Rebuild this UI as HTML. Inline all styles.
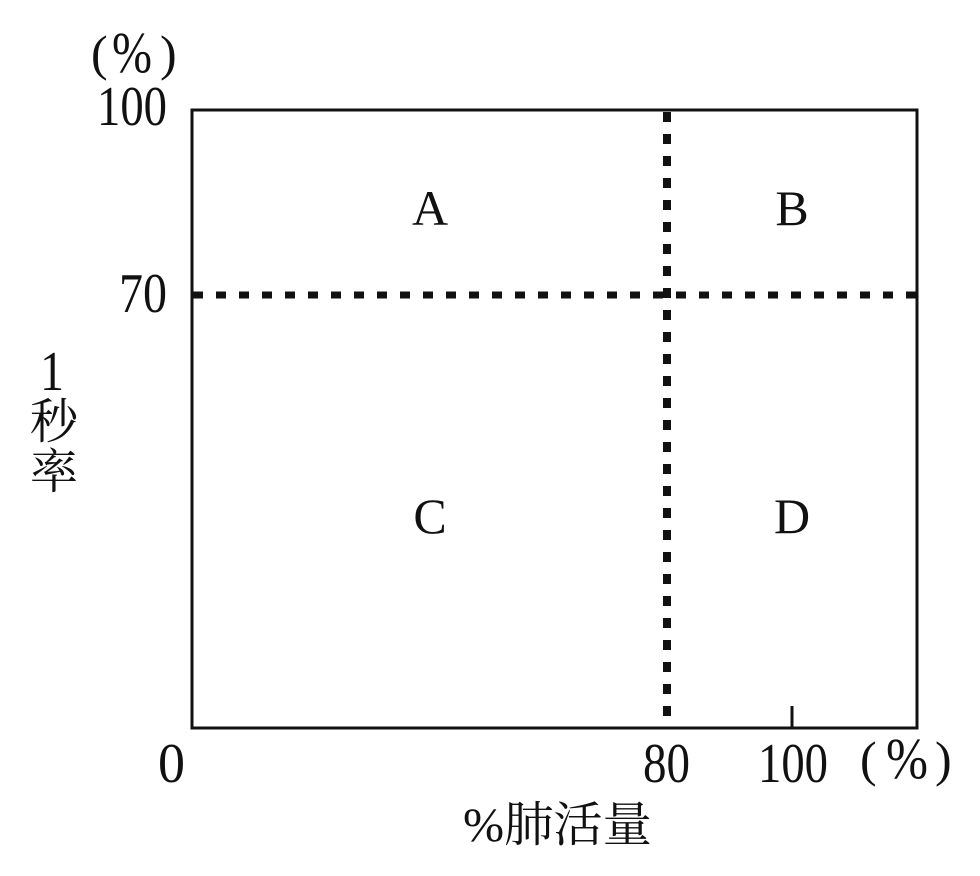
<!DOCTYPE html>
<html><head><meta charset="utf-8"><style>
html,body{margin:0;padding:0;background:#fff;}
svg{display:block;}
text{fill:#111;}
.s{font-family:"Liberation Serif","Noto Serif CJK SC",serif;}
.c{font-family:"Liberation Serif","Noto Serif CJK SC","Noto Sans CJK JP",serif;}
.j{font-family:"Noto Serif CJK SC","Noto Sans CJK JP",serif;}
</style></head><body>
<svg width="980" height="876" viewBox="0 0 980 876" xmlns="http://www.w3.org/2000/svg">
<rect x="192" y="110" width="725" height="618" fill="none" stroke="#111" stroke-width="3"/>
<line x1="193" y1="295" x2="916" y2="295" stroke="#111" stroke-width="7" stroke-dasharray="10 13"/>
<line x1="667" y1="112" x2="667" y2="727" stroke="#111" stroke-width="8" stroke-dasharray="10 12"/>
<line x1="792" y1="706" x2="792" y2="728" stroke="#111" stroke-width="3"/>
<g class="s" font-size="56">
<text x="97" y="125" textLength="70" lengthAdjust="spacingAndGlyphs">100</text>
<text x="119" y="312" textLength="48" lengthAdjust="spacingAndGlyphs">70</text>
<text x="158" y="782" textLength="27" lengthAdjust="spacingAndGlyphs">0</text>
<text x="643" y="782" textLength="47" lengthAdjust="spacingAndGlyphs">80</text>
<text x="758" y="782" textLength="70" lengthAdjust="spacingAndGlyphs">100</text>
<text x="40" y="390" textLength="24" lengthAdjust="spacingAndGlyphs">1</text>
</g>
<g class="s" font-size="50" text-anchor="middle">
<text x="430" y="225">A</text>
<text x="792" y="225">B</text>
<text x="430" y="533">C</text>
<text x="792" y="533">D</text>
</g>
<g class="s" font-size="50">
<text x="91" y="70">(</text>
<text x="160" y="70">)</text>
<text x="860" y="776">(</text>
<text x="935" y="776">)</text>
</g>
<g class="s" font-size="58">
<text x="112" y="72" textLength="40" lengthAdjust="spacingAndGlyphs">%</text>
<text x="886" y="778" textLength="42" lengthAdjust="spacingAndGlyphs">%</text>
</g>
<g class="j" font-size="48">
<text x="30" y="438">秒</text>
<text x="30" y="488">率</text>
</g>
<g class="c" font-size="48">
<text x="463" y="841" textLength="189" lengthAdjust="spacingAndGlyphs">%肺活量</text>
</g>
</svg>
</body></html>
